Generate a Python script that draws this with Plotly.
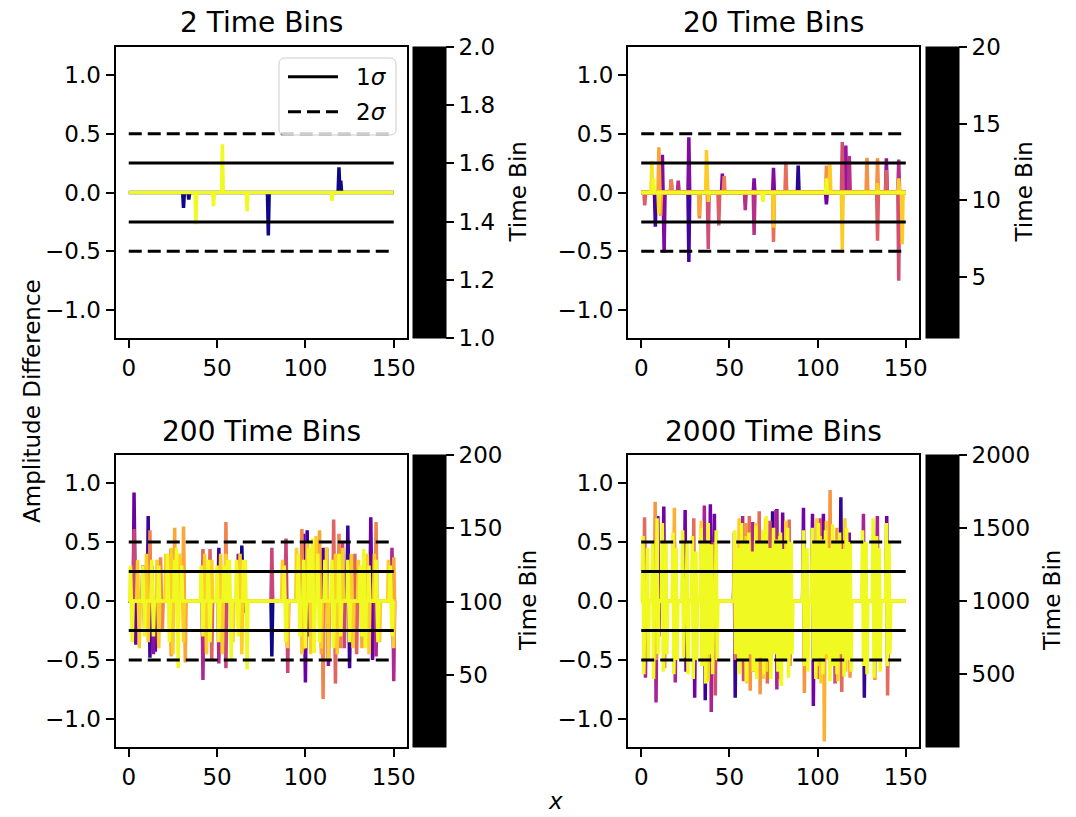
import plotly.graph_objects as go
from plotly.colors import sample_colorscale

W, H = 1076, 817
FONT = "DejaVu Sans"
X_MAX = 150
HALF_W = 0.5  # half width (in x units) of a single spike

# ---------------- data ----------------
titles = ["2 Time Bins", "20 Time Bins", "200 Time Bins", "2000 Time Bins"]
n_bins = [2, 20, 200, 2000]
x_ticks = [0, 50, 100, 150]
y_ticks = [-1.0, -0.5, 0.0, 0.5, 1.0]
sigma_1 = 0.25
sigma_2 = 0.5
cbar_ticks = [[1.0, 1.2, 1.4, 1.6, 1.8, 2.0], [5, 10, 15, 20], [50, 100, 150, 200], [500, 1000, 1500, 2000]]
cbar_labels = [["1.0", "1.2", "1.4", "1.6", "1.8", "2.0"], ["5", "10", "15", "20"],
               ["50", "100", "150", "200"], ["500", "1000", "1500", "2000"]]

# each line: time-bin index and its non-zero samples (x, amplitude difference)
p1_bins = [1, 2]
p1_spikes = [
    [(31, -0.13), (34, -0.06), (79, -0.365), (119, 0.215), (120, 0.1)],
    [(38, -0.27), (48, -0.115), (53, 0.41), (67, -0.16), (115, -0.07)],
]

p2_bins = [2, 3, 5, 6, 7, 9, 11, 12, 13, 14, 15, 16, 18, 19, 20]
p2_spikes = [
    [(89, 0.23)],
    [(8, -0.29), (27, -0.59)],
    [(105, -0.1)],
    [(12, 0.32), (13, -0.51), (27, 0.47), (46, 0.16), (64, 0.12), (75, 0.21)],
    [(116, 0.40), (139, 0.29)],
    [(17, 0.11), (21, 0.1), (59, -0.15), (64, -0.36), (118, 0.31), (146, 0.28)],
    [(38, -0.48), (114, 0.43), (146, -0.75)],
    [(2, -0.11), (44, -0.28), (134, -0.41), (139, 0.19)],
    [(75, -0.42), (82, 0.26)],
    [(17, 0.11), (33, -0.22), (47, 0.14)],
    [(105, 0.23), (128, 0.295), (134, 0.29)],
    [(10, 0.385), (11, -0.2), (33, -0.2)],
    [(37, 0.36), (38, -0.08), (75, -0.3), (107, 0.25), (114, -0.51), (134, 0.08), (146, 0.12), (148, -0.44)],
    [(6, 0.27), (10, -0.18)],
    [(7, 0.12), (69, -0.08), (105, 0.12)],
]

p3_bins = [1, 20, 40, 60, 80, 100, 120, 140, 160, 180, 200]
p3_spikes = [
    [(64, 0.47), (65, -0.1), (81, -0.47), (124, 0.5)],
    [(8, 0.3), (9, -0.23), (11, 0.72), (12, -0.48), (51, 0.45), (101, 0.6), (102, -0.3), (110, 0.45), (124, 0.64), (125, -0.57)],
    [(3, 0.92), (4, -0.37), (15, -0.43), (24, 0.44), (99, 0.57), (100, -0.69), (137, 0.71), (138, -0.5)],
    [(13, 0.3), (14, -0.45), (62, 0.4), (63, -0.25), (112, 0.45), (113, -0.55)],
    [(42, -0.67), (51, -0.53), (140, -0.47), (149, 0.45), (150, -0.68)],
    [(3, 0.61), (55, -0.57), (81, 0.45), (89, 0.53), (90, -0.61), (121, 0.5), (122, -0.4)],
    [(42, 0.44), (46, 0.44), (47, -0.5), (116, 0.69), (117, -0.7), (128, 0.4), (129, -0.45)],
    [(12, 0.6), (18, 0.37), (19, -0.25), (55, 0.67), (98, 0.61), (99, -0.41), (110, -0.83), (119, 0.57), (120, -0.4), (140, 0.67)],
    [(24, -0.47), (26, 0.62), (31, 0.63), (32, -0.52), (108, 0.6), (109, -0.45), (132, -0.4), (150, 0.37)],
    [(5, 0.35), (6, -0.4), (10, 0.4), (11, -0.35), (16, 0.35), (17, -0.4), (21, 0.4), (24, 0.45), (25, -0.45),
     (29, 0.4), (31, -0.35), (43, 0.4), (44, -0.45), (47, 0.35), (52, 0.4), (53, -0.45), (55, 0.4), (59, -0.35),
     (63, 0.4), (64, -0.45), (87, 0.35), (90, -0.4), (95, 0.45), (98, -0.45), (101, 0.5), (103, -0.45), (106, 0.55),
     (109, -0.4), (112, 0.45), (113, -0.5), (117, 0.4), (118, -0.45), (121, 0.45), (126, 0.4), (127, -0.4),
     (130, 0.35), (135, 0.4), (136, -0.45), (139, 0.4), (142, -0.35), (147, 0.35), (150, -0.4)],
    [(1, 0.3), (2, -0.35), (8, 0.3), (9, -0.3), (13, 0.35), (14, -0.3), (17, 0.3), (22, 0.4), (23, -0.35),
     (26, 0.35), (27, 0.45), (28, -0.57), (30, 0.3), (41, 0.3), (42, -0.3), (45, 0.35), (46, -0.35), (50, 0.3),
     (51, -0.35), (54, 0.3), (56, 0.35), (57, 0.35), (58, -0.5), (61, 0.35), (62, -0.3), (65, 0.35), (66, 0.35),
     (67, -0.58), (88, 0.3), (89, -0.35), (96, 0.4), (97, -0.3), (99, 0.35), (100, -0.4), (102, 0.45), (104, 0.53),
     (105, -0.44), (107, 0.4), (108, -0.35), (111, 0.35), (115, 0.35), (116, -0.4), (119, 0.4), (120, -0.3),
     (124, 0.35), (125, -0.35), (131, 0.3), (132, -0.3), (133, 0.44), (134, -0.4), (136, 0.3), (140, 0.35),
     (141, -0.35), (148, 0.3), (149, -0.3)],
]

# 2000 bins: each oscillation as (x, peak, trough)
p4_bins = [150, 450, 750, 1050, 1250, 1500, 1650, 1800, 2000]
p4_strokes = [
    [(35.8, 0.3, -0.84), (52.8, 0.3, -0.82), (74.5, 0.76, -0.3), (113.2, 0.88, -0.4), (126, 0.3, -0.82)],
    [(9.4, 0.72, -0.3), (12.8, 0.80, -0.4), (24.9, 0.77, -0.6), (29.8, 0.4, -0.82), (39.2, 0.82, -0.5),
     (41.5, 0.74, -0.4), (76.9, 0.78, -0.66), (80.2, 0.75, -0.4), (92.0, 0.79, -0.5), (97.1, 0.74, -0.89),
     (103.3, 0.74, -0.5), (117.9, 0.58, -0.4), (139.2, 0.72, -0.5)],
    [(1.9, 0.5, -0.65), (7.9, 0.5, -0.86), (18.8, 0.5, -0.69), (35.8, 0.81, -0.5), (39.2, 0.5, -0.94),
     (57.5, 0.72, -0.5), (63.2, 0.67, -0.6), (76.4, 0.77, -0.75), (126, 0.74, -0.5), (133.9, 0.72, -0.5)],
    [(41.5, 0.5, -0.8), (57.5, 0.5, -0.68), (66.9, 0.5, -0.6), (73, 0.68, -0.5), (101.5, 0.7, -0.5),
     (109.4, 0.5, -0.7)],
    [(1.9, 0.71, -0.5), (29.8, 0.70, -0.5), (52.8, 0.58, -0.5), (61.3, 0.72, -0.5), (66.9, 0.76, -0.5),
     (71, 0.5, -0.7), (83.9, 0.69, -0.5), (99.5, 0.5, -0.66), (113.2, 0.5, -0.77), (139.2, 0.5, -0.8)],
    [(7.9, 0.84, -0.5), (12.8, 0.5, -0.57), (59.5, 0.66, -0.5), (61.3, 0.5, -0.76), (66.9, 0.5, -0.79),
     (83.9, 0.5, -0.55), (92.0, 0.5, -0.78), (107.1, 0.94, -0.5), (111, 0.62, -0.52), (117.9, 0.5, -0.65),
     (132, 0.5, -0.67)],
    [(18.8, 0.79, -0.5), (103.3, 0.5, -1.19)],
    [(34, 0.68, -0.5), (37.5, 0.5, -0.68), (55.5, 0.7, -0.55), (59.5, 0.55, -0.7), (65, 0.66, -0.5),
     (69, 0.5, -0.66), (70.5, 0.7, -0.6), (78.5, 0.55, -0.68), (82, 0.68, -0.5), (99.5, 0.7, -0.55),
     (101.5, 0.55, -0.7), (105, 0.68, -0.5), (111, 0.52, -0.68), (115.5, 0.7, -0.6)],
    [(1, 0.55, -0.62), (3.5, 0.45, -0.5), (6.5, 0.5, -0.66), (9, 0.7, -0.45), (12, 0.66, -0.6), (14, 0.5, -0.45),
     (18, 0.58, -0.62), (19.8, 0.45, -0.5), (23.5, 0.6, -0.48), (26, 0.5, -0.62), (29, 0.55, -0.66),
     (31, 0.42, -0.5), (34, 0.62, -0.55), (36, 0.5, -0.7), (38, 0.66, -0.45), (40, 0.48, -0.62),
     (42.5, 0.6, -0.5), (53, 0.6, -0.45), (55, 0.45, -0.62), (57, 0.66, -0.5), (59, 0.5, -0.68),
     (61, 0.58, -0.45), (63, 0.42, -0.6), (65, 0.64, -0.66), (67, 0.5, -0.48), (69, 0.6, -0.62),
     (71, 0.72, -0.5), (73, 0.45, -0.66), (75, 0.62, -0.45), (77, 0.52, -0.6), (79, 0.58, -0.72),
     (81, 0.44, -0.5), (83, 0.62, -0.65), (85, 0.5, -0.45), (92, 0.6, -0.55), (94, 0.45, -0.6), (97, 0.62, -0.5),
     (98.5, 0.5, -0.66), (100.5, 0.66, -0.48), (102.5, 0.52, -0.62), (104.5, 0.6, -0.45), (106.5, 0.45, -0.68),
     (108.5, 0.65, -0.55), (110.5, 0.5, -0.62), (112.5, 0.58, -0.45), (114.5, 0.44, -0.64), (116.5, 0.62, -0.5),
     (118.5, 0.5, -0.6), (125.5, 0.6, -0.55), (127.5, 0.5, -0.62), (131.5, 0.7, -0.65), (133.5, 0.55, -0.5),
     (135, 0.45, -0.6), (139, 0.66, -0.55), (140.5, 0.5, -0.45)],
]
# peak then trough, half a unit apart
p4_spikes = [[ev for (sx, up, dn) in line for ev in ((sx, up), (sx + 0.5, dn))] for line in p4_strokes]

panels = [(p1_bins, p1_spikes), (p2_bins, p2_spikes), (p3_bins, p3_spikes), (p4_bins, p4_spikes)]

# ---------------- layout geometry (pixels) ----------------
AX = [(115.5, 407, 47, 338), (628, 919, 47, 338), (115.5, 407, 455, 747), (628, 919, 455, 747)]
CB_X = [413, 926, 413, 926]
CB_W = 33
CBT_X = [517, 1023, 528, 1052]


def px(x):
    return x / W


def py(y):
    return 1 - y / H


def build_line(events):
    ev = sorted(events)
    X, Y = [0.0], [0.0]
    for k, (ex, a) in enumerate(ev):
        if ex - HALF_W > X[-1]:
            X.append(ex - HALF_W)
            Y.append(0.0)
        X.append(ex)
        Y.append(a)
        nxt = ev[k + 1][0] if k + 1 < len(ev) else None
        if nxt is None or nxt - ex > 2 * HALF_W:
            X.append(ex + HALF_W)
            Y.append(0.0)
    if X[-1] < X_MAX:
        X.append(X_MAX)
        Y.append(0.0)
    return X, Y


fig = go.Figure()

for i, (bins, spikes) in enumerate(panels):
    sfx = "" if i == 0 else str(i + 1)
    xref, yref = "x" + sfx, "y" + sfx
    n = n_bins[i]
    for b, sp in zip(bins, spikes):
        lx, ly = build_line(sp)
        t = (b - 1) / (n - 1)
        col = sample_colorscale("Plasma", [t])[0]
        fig.add_trace(go.Scatter(x=lx, y=ly, mode="lines", xaxis=xref, yaxis=yref,
                                 line=dict(color=col, width=3.5), showlegend=False, hoverinfo="skip"))
    for lvl, dash in [(sigma_1, "solid"), (-sigma_1, "solid"), (sigma_2, "13px,6px"), (-sigma_2, "13px,6px")]:
        fig.add_trace(go.Scatter(x=[0, X_MAX], y=[lvl, lvl], mode="lines", xaxis=xref, yaxis=yref,
                                 line=dict(color="black", width=3, dash=dash), showlegend=False, hoverinfo="skip"))
    # colorbar
    x0, x1, y0, y1 = AX[i]
    cbar = dict(x=px(CB_X[i]), xanchor="left", y=py(y0), yanchor="top",
                len=y1 - y0, lenmode="pixels", thickness=CB_W, thicknessmode="pixels",
                xpad=0, ypad=0, outlinewidth=1, outlinecolor="black",
                tickmode="array", tickvals=cbar_ticks[i], ticktext=cbar_labels[i],
                ticks="outside", ticklen=8, tickwidth=2, tickcolor="black",
                tickfont=dict(family=FONT, size=23, color="black"))
    fig.add_trace(go.Scatter(
        x=[0, 0], y=[0, 0], mode="markers", xaxis=xref, yaxis=yref, showlegend=False, hoverinfo="skip",
        marker=dict(size=1, opacity=0, color=[1, n], cmin=1, cmax=n,
                    colorscale=[[0, "black"], [1, "black"]], showscale=True, colorbar=cbar)))
    axstyle = dict(showline=True, linecolor="black", linewidth=2, mirror=True, showgrid=False, zeroline=False,
                   ticks="outside", ticklen=8, tickwidth=2, tickcolor="black",
                   tickfont=dict(family=FONT, size=23, color="black"))
    fig.layout["xaxis" + sfx] = dict(domain=[px(x0), px(x1)], range=[-7.5, 157.5], anchor=yref,
                                     tickvals=x_ticks, **axstyle)
    fig.layout["yaxis" + sfx] = dict(domain=[py(y1), py(y0)], range=[-1.237, 1.237], anchor=xref,
                                     tickvals=y_ticks, tickformat=".1f", **axstyle)
    # title
    fig.add_annotation(text=titles[i], x=px((x0 + x1) / 2), y=py(y0 - 24), xref="paper", yref="paper",
                       showarrow=False, xanchor="center", yanchor="middle",
                       font=dict(family=FONT, size=28, color="black"))
    fig.add_annotation(text="Time Bin", x=px(CBT_X[i]), y=py((y0 + y1) / 2), xref="paper", yref="paper",
                       showarrow=False, textangle=-90, xanchor="center", yanchor="middle",
                       font=dict(family=FONT, size=23, color="black"))

# shared labels
fig.add_annotation(text="Amplitude Difference", x=px(32), y=py(401), xref="paper", yref="paper",
                   showarrow=False, textangle=-90, xanchor="center", yanchor="middle",
                   font=dict(family=FONT, size=23, color="black"))
fig.add_annotation(text="<i>x</i>", x=px(555), y=py(801), xref="paper", yref="paper",
                   showarrow=False, xanchor="center", yanchor="middle",
                   font=dict(family=FONT, size=23, color="black"))

# legend (first panel)
lx0, lx1, ly0, ly1, r = 279, 396, 58, 135, 6
path = (f"M {px(lx0 + r)},{py(ly0)} L {px(lx1 - r)},{py(ly0)} Q {px(lx1)},{py(ly0)} {px(lx1)},{py(ly0 + r)} "
        f"L {px(lx1)},{py(ly1 - r)} Q {px(lx1)},{py(ly1)} {px(lx1 - r)},{py(ly1)} "
        f"L {px(lx0 + r)},{py(ly1)} Q {px(lx0)},{py(ly1)} {px(lx0)},{py(ly1 - r)} "
        f"L {px(lx0)},{py(ly0 + r)} Q {px(lx0)},{py(ly0)} {px(lx0 + r)},{py(ly0)} Z")
fig.add_shape(type="path", path=path, xref="paper", yref="paper",
              fillcolor="rgba(255,255,255,0.8)", line=dict(color="#cccccc", width=1))
for row_y, dash, lab in [(76.7, "solid", "1<i>σ</i>"), (111.7, "13px,6px", "2<i>σ</i>")]:
    fig.add_shape(type="line", x0=px(288), x1=px(338), y0=py(row_y), y1=py(row_y), xref="paper", yref="paper",
                  line=dict(color="black", width=3, dash=dash))
    fig.add_annotation(text=lab, x=px(354), y=py(row_y), xref="paper", yref="paper", showarrow=False,
                       xanchor="left", yanchor="middle", font=dict(family=FONT, size=23, color="black"))

fig.update_layout(width=W, height=H, margin=dict(l=0, r=0, t=0, b=0, autoexpand=False),
                  paper_bgcolor="white", plot_bgcolor="white", showlegend=False,
                  font=dict(family=FONT, color="black"))

fig.write_html("out.html")
